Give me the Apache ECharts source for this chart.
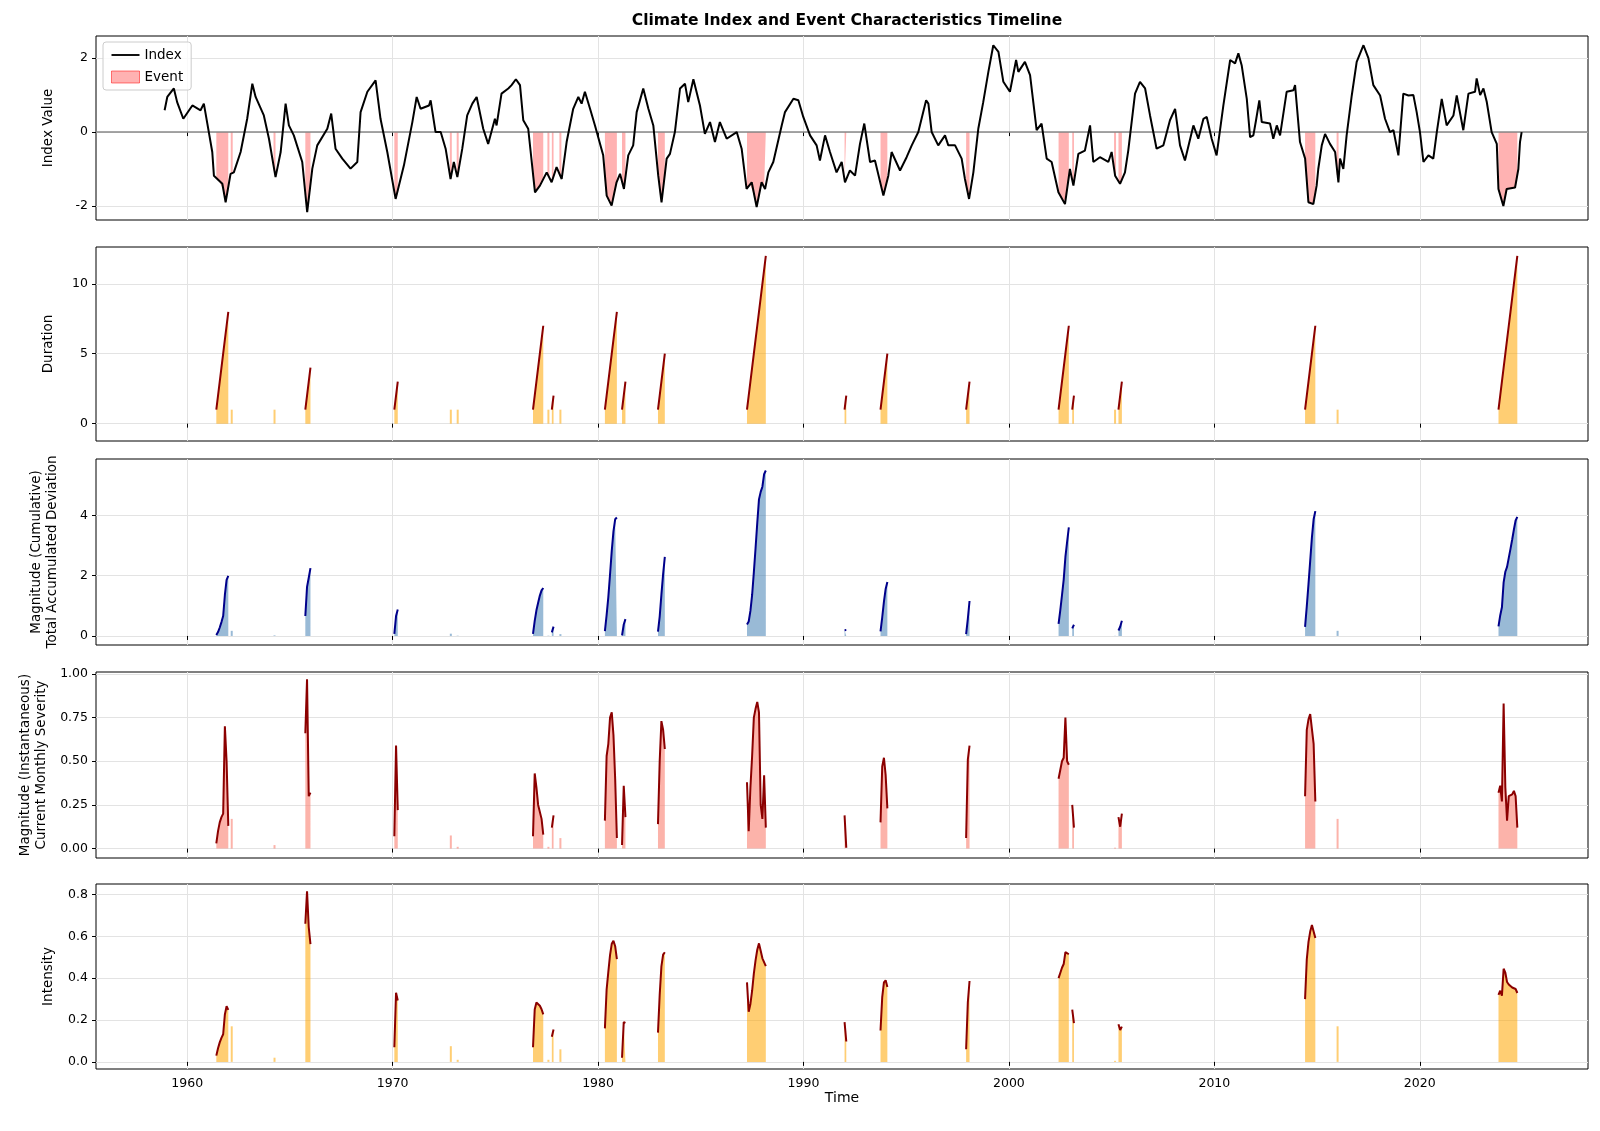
<!DOCTYPE html>
<html><head><meta charset="utf-8">
<script src="https://cdn.jsdelivr.net/npm/echarts@6/dist/echarts.min.js"></script>
<style>html,body{margin:0;padding:0;background:#fff}#c{width:1600px;height:1131px}</style>
</head><body><div id="c"></div>
<script>
// ---- Climate index (time in decimal years, value) ----
const idxT = [1958.90,1959.03,1959.35,1959.51,1959.81,1960.25,1960.65,1960.81,1960.98,1961.22,1961.30,1961.71,1961.87,1962.11,1962.27,1962.60,1962.92,1963.17,1963.33,1963.73,1963.98,1964.30,1964.55,1964.79,1964.95,1965.19,1965.60,1965.84,1966.09,1966.33,1966.82,1967.01,1967.22,1967.55,1967.95,1968.28,1968.44,1968.77,1969.17,1969.41,1969.74,1970.145,1970.55,1970.96,1971.17,1971.36,1971.77,1971.85,1972.09,1972.34,1972.58,1972.82,1972.98,1973.15,1973.39,1973.63,1973.88,1974.09,1974.41,1974.65,1974.98,1975.06,1975.30,1975.63,1975.79,1976.00,1976.20,1976.36,1976.60,1976.93,1977.17,1977.50,1977.74,1977.98,1978.23,1978.47,1978.79,1979.04,1979.20,1979.36,1979.61,1979.85,1980.25,1980.42,1980.66,1980.90,1981.07,1981.26,1981.47,1981.71,1981.88,1982.20,1982.45,1982.69,1982.93,1983.09,1983.34,1983.50,1983.74,1983.99,1984.23,1984.39,1984.64,1984.96,1985.20,1985.45,1985.69,1985.93,1986.26,1986.75,1986.99,1987.23,1987.48,1987.72,1987.96,1988.13,1988.29,1988.53,1988.94,1989.10,1989.51,1989.75,1989.99,1990.32,1990.64,1990.80,1991.05,1991.29,1991.61,1991.86,1992.02,1992.26,1992.51,1992.75,1992.96,1993.24,1993.48,1993.89,1994.13,1994.29,1994.70,1995.02,1995.27,1995.59,1995.97,1996.08,1996.24,1996.56,1996.89,1997.05,1997.38,1997.70,1997.86,1998.06,1998.27,1998.51,1998.75,1999.00,1999.24,1999.49,1999.73,2000.05,2000.35,2000.46,2000.78,2001.03,2001.35,2001.59,2001.84,2002.08,2002.41,2002.73,2002.97,2003.14,2003.38,2003.70,2003.95,2004.11,2004.43,2004.84,2005.00,2005.17,2005.41,2005.65,2005.81,2006.14,2006.38,2006.63,2006.87,2007.19,2007.52,2007.84,2008.09,2008.33,2008.57,2008.98,2009.22,2009.47,2009.63,2009.87,2010.11,2010.44,2010.77,2011.01,2011.17,2011.33,2011.58,2011.74,2011.90,2012.03,2012.19,2012.31,2012.71,2012.87,2013.04,2013.20,2013.52,2013.85,2013.93,2014.17,2014.42,2014.58,2014.82,2014.98,2015.06,2015.23,2015.39,2015.63,2015.88,2016.04,2016.12,2016.28,2016.44,2016.69,2016.93,2017.26,2017.50,2017.74,2018.07,2018.31,2018.55,2018.72,2018.96,2019.20,2019.45,2019.69,2019.85,2020.01,2020.18,2020.42,2020.66,2020.83,2021.07,2021.31,2021.64,2021.80,2022.12,2022.37,2022.69,2022.77,2022.94,2023.10,2023.26,2023.50,2023.75,2023.83,2024.07,2024.23,2024.64,2024.80,2024.88,2024.96];
const idxV = [0.59,0.95,1.18,0.81,0.36,0.72,0.59,0.77,0.23,-0.54,-1.18,-1.40,-1.90,-1.13,-1.09,-0.54,0.36,1.31,0.95,0.45,-0.18,-1.22,-0.54,0.77,0.18,-0.09,-0.81,-2.17,-0.99,-0.36,0.09,0.50,-0.45,-0.72,-0.99,-0.81,0.54,1.09,1.40,0.36,-0.54,-1.81,-0.90,0.27,0.95,0.63,0.72,0.86,0.0,0.0,-0.45,-1.27,-0.81,-1.22,-0.45,0.45,0.77,0.95,0.09,-0.32,0.36,0.18,1.04,1.18,1.27,1.43,1.27,0.32,0.09,-1.63,-1.45,-1.09,-1.36,-0.95,-1.27,-0.27,0.63,0.95,0.77,1.09,0.63,0.18,-0.63,-1.72,-1.99,-1.36,-1.13,-1.54,-0.63,-0.36,0.54,1.18,0.63,0.18,-1.18,-1.90,-0.72,-0.59,0.0,1.18,1.31,0.81,1.43,0.72,-0.05,0.27,-0.27,0.27,-0.18,0.0,-0.45,-1.54,-1.36,-2.03,-1.36,-1.54,-1.09,-0.81,0.18,0.54,0.90,0.86,0.41,-0.09,-0.36,-0.77,-0.09,-0.54,-1.09,-0.81,-1.36,-1.04,-1.18,-0.32,0.23,-0.81,-0.77,-1.72,-1.18,-0.54,-1.04,-0.68,-0.36,0.0,0.86,0.77,0.0,-0.36,-0.09,-0.36,-0.36,-0.72,-1.27,-1.81,-1.09,0.09,0.81,1.63,2.35,2.17,1.36,1.09,1.95,1.63,1.90,1.54,0.05,0.23,-0.72,-0.81,-1.63,-1.95,-1.00,-1.45,-0.59,-0.50,0.18,-0.81,-0.68,-0.81,-0.54,-1.18,-1.40,-1.09,-0.50,1.04,1.36,1.18,0.45,-0.45,-0.36,0.32,0.63,-0.36,-0.77,0.18,-0.18,0.36,0.41,-0.18,-0.63,0.72,1.95,1.86,2.13,1.81,0.90,-0.14,-0.09,0.32,0.86,0.27,0.23,-0.18,0.18,-0.09,1.09,1.13,1.27,-0.27,-0.72,-1.90,-1.95,-1.45,-1.0,-0.36,-0.05,-0.32,-0.54,-1.36,-0.72,-1.0,-0.09,0.99,1.90,2.35,2.0,1.27,0.99,0.36,0.0,0.05,-0.63,1.04,0.99,1.0,0.54,0.0,-0.81,-0.63,-0.72,0.0,0.90,0.18,0.45,0.99,0.05,1.04,1.09,1.45,1.0,1.18,0.82,0.0,-0.32,-1.54,-2.0,-1.54,-1.50,-1.0,-0.27,0.0];

// ---- Events: start (decimal year) and monthly severity ----
const evStart = [1961.417,1962.167,1964.25,1965.75,1970.083,1972.833,1973.167,1976.833,1977.583,1977.75,1978.167,1980.333,1981.167,1982.917,1987.25,1992.0,1993.75,1997.917,2002.417,2003.083,2005.167,2005.333,2014.417,2016.0,2023.833];
const evSeverity = [
 [0.03,0.1,0.15,0.18,0.2,0.7,0.5,0.13],
 [0.17],[0.02],
 [0.66,0.97,0.3,0.32],
 [0.07,0.59,0.22],
 [0.075],[0.01],
 [0.07,0.43,0.35,0.25,0.24,0.17,0.08],
 [0.01],
 [0.12,0.19],
 [0.06],
 [0.16,0.53,0.6,0.75,0.78,0.65,0.4,0.06],
 [0.02,0.36,0.18],
 [0.14,0.5,0.73,0.68,0.57],
 [0.38,0.1,0.35,0.53,0.75,0.8,0.84,0.78,0.25,0.17,0.42,0.12],
 [0.19,0.005],
 [0.15,0.47,0.52,0.42,0.23],
 [0.06,0.51,0.59],
 [0.4,0.45,0.5,0.52,0.75,0.5,0.48],
 [0.25,0.12],
 [0.005],
 [0.18,0.125,0.2],
 [0.3,0.68,0.74,0.77,0.78,0.6,0.27],
 [0.17],
 [0.32,0.36,0.27,0.83,0.35,0.16,0.3,0.3,0.31,0.33,0.3,0.12]
];
// ---- Tick labels ----
const xTicks = [1960,1970,1980,1990,2000,2010,2020];
const yTickSets = [[-2,0,2],[0,5,10],[0,2,4],[0,0.25,0.5,0.75,1.0],[0,0.2,0.4,0.6,0.8]];

function interp(t){
  if(t<=idxT[0]) return idxV[0];
  for(let i=1;i<idxT.length;i++){ if(t<=idxT[i]){const f=(t-idxT[i-1])/(idxT[i]-idxT[i-1]);return idxV[i-1]+f*(idxV[i]-idxV[i-1]);} }
  return idxV[idxV.length-1];
}
const metric = {dur:[],cum:[],sev:[],int:[],idx:[]};
const single = {dur:[],cum:[],sev:[],int:[],idx:[]};
evStart.forEach((s,k)=>{
  const sv=evSeverity[k]; let c=0;
  const rows = sv.map((v,i)=>{c+=v; const t=s+i/12; return {t, dur:i+1, cum:c, sev:v, int:c/(i+1), idx:Math.min(0,interp(t))};});
  for(const key of Object.keys(metric)){
    if(rows.length===1){ single[key].push([rows[0].t, rows[0][key]]); }
    else { rows.forEach(r=>metric[key].push([r.t,r[key]])); metric[key].push(null); }
  }
});

const L=96, R=12, XMIN=1955.56, XMAX=2028.19;
const grids=[{top:36,height:184},{top:247,height:194},{top:459,height:186},{top:672,height:186},{top:884,height:185}];
const yCfg=[
 {min:-2.38,max:2.6,name:'Index Value'},
 {min:-1.24,max:12.63,name:'Duration'},
 {min:-0.3,max:5.87,name:'Magnitude (Cumulative)\nTotal Accumulated Deviation'},
 {min:-0.054,max:1.011,name:'Magnitude (Instantaneous)\nCurrent Monthly Severity',fmt:v=>v.toFixed(2)},
 {min:-0.034,max:0.85,name:'Intensity',fmt:v=>v.toFixed(1)}
];
const font='DejaVu Sans';
const gridLine={show:true,lineStyle:{color:'#e3e3e3',width:1}};
const xAxes=grids.map((g,i)=>({type:'value',gridIndex:i,min:XMIN,max:XMAX,
  axisLine:{show:false},axisTick:{show:true,length:4,customValues:xTicks,lineStyle:{color:'#000'}},
  splitLine:gridLine,
  axisLabel:{show:i===4,customValues:xTicks,color:'#000',fontFamily:font,fontSize:12.5,formatter:v=>String(Math.round(v))},
  name:i===4?'Time':'',nameLocation:'middle',nameGap:22,nameTextStyle:{color:'#000',fontFamily:font,fontSize:14}}));
const yAxes=yCfg.map((c,i)=>({type:'value',gridIndex:i,min:c.min,max:c.max,
  axisLine:{show:false},axisTick:{show:true,length:4,customValues:yTickSets[i],lineStyle:{color:'#000'}},splitLine:gridLine,
  axisLabel:{customValues:yTickSets[i],color:'#000',fontFamily:font,fontSize:12.5,formatter:c.fmt||(v=>String(Math.round(v)))},
  name:c.name,nameLocation:'middle',nameRotate:90,nameGap:i===3?46:(i===2?36:40),
  nameTextStyle:{color:'#000',fontFamily:font,fontSize:13.5,lineHeight:16}}));

function areaLine(data,gi,lineColor,fillColor,name){
  return {type:'line',name:name,xAxisIndex:gi,yAxisIndex:gi,data:data,showSymbol:false,symbol:'none',connectNulls:false,
    lineStyle:{color:lineColor,width:2},areaStyle:{color:fillColor,origin:0,opacity:1},silent:true,z:3};
}
function bars(data,gi,color){
  return {type:'bar',xAxisIndex:gi,yAxisIndex:gi,data:data,barWidth:2,itemStyle:{color:color},silent:true,z:2};
}
const ORANGE='rgba(255,165,0,0.55)', SALMON='rgba(250,128,114,0.6)', STEEL='rgba(70,130,180,0.55)';
const series=[
  {type:'line',name:'Event',xAxisIndex:0,yAxisIndex:0,data:metric.idx,showSymbol:false,symbol:'none',connectNulls:false,
    lineStyle:{width:0.8,color:'rgba(255,80,80,0.5)'},itemStyle:{color:'rgba(255,0,0,0.3)'},areaStyle:{color:'rgba(255,0,0,0.3)',origin:0,opacity:1},z:2},
  bars(single.idx,0,'rgba(255,0,0,0.3)'),
  {type:'line',xAxisIndex:0,yAxisIndex:0,data:[[XMIN,0],[XMAX,0]],showSymbol:false,symbol:'none',silent:true,
    lineStyle:{color:'#888',width:1.5},z:3},
  {type:'line',name:'Index',xAxisIndex:0,yAxisIndex:0,data:idxT.map((t,i)=>[t,idxV[i]]),showSymbol:false,symbol:'none',
    lineStyle:{color:'#000',width:2},itemStyle:{color:'#000'},z:4},
  areaLine(metric.dur,1,'#8b0000',ORANGE),
  bars(single.dur,1,ORANGE),
  areaLine(metric.cum,2,'#00008b',STEEL),
  bars(single.cum,2,STEEL),
  areaLine(metric.sev,3,'#8b0000',SALMON),
  bars(single.sev,3,SALMON),
  areaLine(metric.int,4,'#8b0000',ORANGE),
  bars(single.int,4,ORANGE)
];
const chart=echarts.init(document.getElementById('c'),null,{renderer:'canvas'});
chart.setOption({
  animation:false,backgroundColor:'#fff',
  title:{text:'Climate Index and Event Characteristics Timeline',left:842,top:8,textAlign:'center',
    textStyle:{fontFamily:font,fontSize:15.5,fontWeight:'bold',color:'#000'}},
  legend:{left:103,top:42,orient:'vertical',itemGap:8,itemWidth:28,itemHeight:12,padding:[6,8],
    backgroundColor:'rgba(255,255,255,0.8)',borderColor:'#ccc',borderWidth:1,borderRadius:3,
    textStyle:{fontFamily:font,fontSize:13.5,color:'#000'},
    data:[{name:'Index',icon:'path://M0,5 H30 V7 H0 Z'},{name:'Event',icon:'rect',itemStyle:{color:'rgba(255,0,0,0.3)',borderColor:'rgba(255,0,0,0.5)',borderWidth:1}}]},
  grid:grids.map(g=>({left:L,right:R,top:g.top,height:g.height,show:true,borderColor:'#000',borderWidth:1,backgroundColor:'transparent'})),
  xAxis:xAxes,yAxis:yAxes,series:series
});
</script></body></html>
